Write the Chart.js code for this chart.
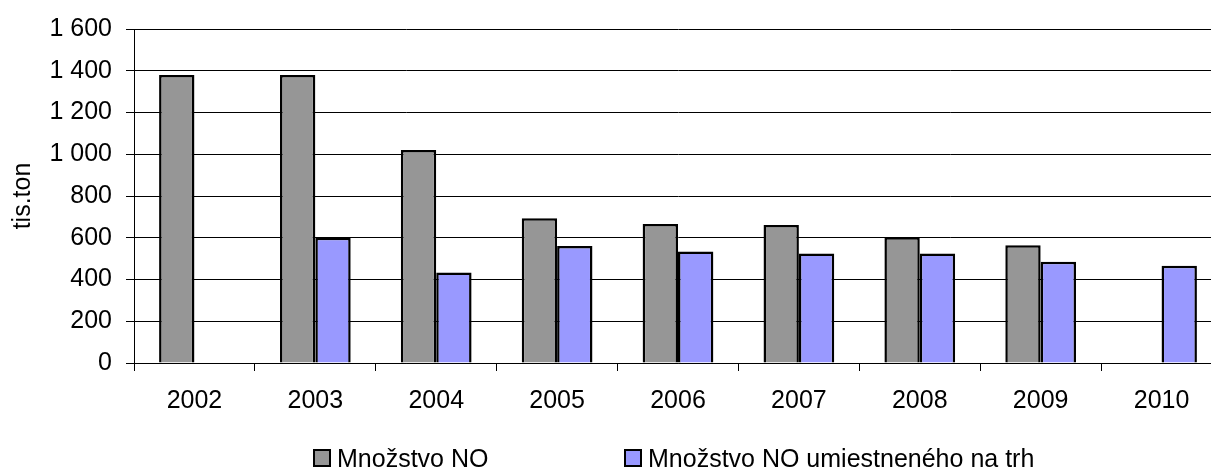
<!DOCTYPE html>
<html><head><meta charset="utf-8">
<script src="https://cdn.jsdelivr.net/npm/chart.js@4.4.1/dist/chart.umd.min.js"></script>
<style>
html,body{margin:0;padding:0;background:#fff;overflow:hidden;width:1211px;height:470px;}
#wrap{position:relative;width:1232px;height:470px;}
</style></head><body>
<div id="wrap"><canvas id="c"></canvas></div>
<script>
const categories = ['2002','2003','2004','2005','2006','2007','2008','2009','2010'];
const seriesNames = ['Množstvo NO', 'Množstvo NO umiestneného na trh'];
const mnozstvoNO = [1380, 1380, 1020, 693, 666, 661, 602, 564, null];
const mnozstvoNaTrh = [null, 600, 433, 561, 534, 524, 524, 485, 466];
const yTickValues = [0, 200, 400, 600, 800, 1000, 1200, 1400, 1600];
const yTickLabels = ['0', '200', '400', '600', '800', '1 000', '1 200', '1 400', '1 600'];
const yAxisTitle = 'tis.ton';

const FONT_FAMILY = '"Liberation Sans", Arial, sans-serif';
const tickFont = {family: FONT_FAMILY, size: 25};

const customLegend = {
  id: 'customLegend',
  afterDraw(chart, args, opts) {
    const ctx = chart.ctx;
    ctx.save();
    ctx.font = opts.fontSize + 'px ' + FONT_FAMILY;
    ctx.textBaseline = 'alphabetic';
    ctx.textAlign = 'left';
    chart.data.datasets.forEach((ds, i) => {
      const x = opts.xs[i];
      const bs = opts.box;
      const top = opts.baseline - bs;
      ctx.fillStyle = ds.backgroundColor;
      ctx.fillRect(x, top, bs, bs);
      ctx.lineWidth = 2;
      ctx.strokeStyle = '#000';
      ctx.strokeRect(x + 1, top + 1, bs - 2, bs - 2);
      ctx.fillStyle = '#000';
      ctx.fillText(ds.label, x + bs + opts.gap, opts.baseline);
    });
    ctx.restore();
  }
};

new Chart(document.getElementById('c'), {
  type: 'bar',
  data: {
    labels: categories,
    datasets: [
      {label: seriesNames[0], data: mnozstvoNO, backgroundColor: '#969696', borderColor: '#000', borderWidth: 2.5, categoryPercentage: 0.585, barPercentage: 1},
      {label: seriesNames[1], data: mnozstvoNaTrh, backgroundColor: '#9999FF', borderColor: '#000', borderWidth: 2.5, categoryPercentage: 0.585, barPercentage: 1}
    ]
  },
  options: {
    responsive: true,
    maintainAspectRatio: false,
    animation: false,
    layout: {padding: {left: 8, right: 10, top: 25, bottom: 53}},
    plugins: {
      legend: {display: false},
      tooltip: {enabled: false},
      customLegend: {xs: [313, 624], baseline: 467, box: 18, gap: 6, fontSize: 25}
    },
    scales: {
      x: {
        grid: {display: true, drawOnChartArea: false, drawTicks: true, tickLength: 8, color: '#000', offset: true},
        border: {display: true, color: '#000', width: 1},
        ticks: {font: tickFont, color: '#000', padding: 15, maxRotation: 0},
        afterFit(s) { s.height = 54; }
      },
      y: {
        min: 0, max: 1600,
        ticks: {
          stepSize: 200, font: tickFont, color: '#000', padding: 14,
          callback: (v) => { const i = yTickValues.indexOf(v); return i >= 0 ? yTickLabels[i] : ''; }
        },
        grid: {color: '#000', lineWidth: 1, tickLength: 8},
        border: {display: true, color: '#000', width: 1},
        title: {display: true, text: yAxisTitle, font: {family: FONT_FAMILY, size: 25}, color: '#000', padding: {top: 0, bottom: 0}},
        afterFit(s) { s.width = 126; }
      }
    }
  },
  plugins: [customLegend]
});
</script>
</body></html>
